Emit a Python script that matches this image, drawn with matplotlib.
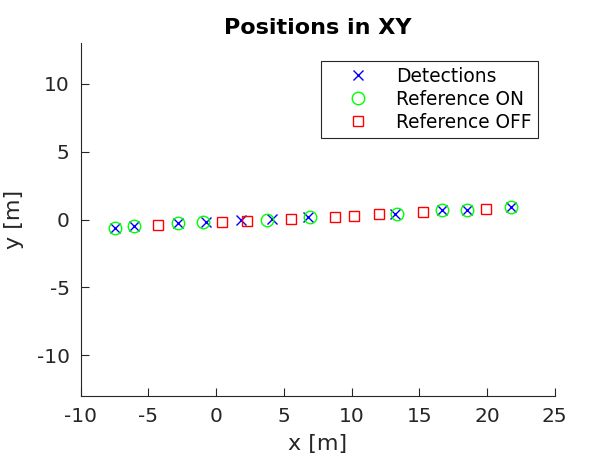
import matplotlib
matplotlib.use("Agg")
import matplotlib.pyplot as plt

plt.rcParams["axes.unicode_minus"] = False

# detections (blue x)
det_x = [-7.5, -6.1, -2.84, -0.74, 1.84, 4.1, 6.8, 13.2, 16.66, 18.55, 21.8]
det_y = [-0.59, -0.5, -0.27, -0.2, 0.0, 0.05, 0.17, 0.44, 0.69, 0.74, 0.91]

# reference ON (green circles)
on_x = [-7.5, -6.1, -2.84, -0.98, 3.73, 6.91, 13.36, 16.66, 18.55, 21.8]
on_y = [-0.59, -0.5, -0.27, -0.2, 0.0, 0.17, 0.44, 0.69, 0.74, 0.91]

# reference OFF (red squares)
off_x = [-4.26, 0.42, 2.3, 5.56, 8.75, 10.2, 12.0, 15.24, 19.95]
off_y = [-0.37, -0.17, -0.07, 0.05, 0.2, 0.3, 0.42, 0.57, 0.79]

xticks = [-10, -5, 0, 5, 10, 15, 20, 25]
yticks = [-10, -5, 0, 5, 10]

W, H = 613, 459
grey = (0.15, 0.15, 0.15)

fig = plt.figure(figsize=(W / 100, H / 100), dpi=100)
ax = fig.add_axes([80.7 / W, 1 - 396 / H, (554.7 - 80.7) / W, (396 - 43.3) / H])

ax.plot(det_x, det_y, "x", color=(0, 0, 1), ms=6.5, mew=1, label="Detections")
ax.plot(on_x, on_y, "o", color=(0, 1, 0), mfc="none", ms=9, mew=1, label="Reference ON")
ax.plot(off_x, off_y, "s", color=(1, 0, 0), mfc="none", ms=7, mew=1, label="Reference OFF")

ax.set_xlim(-10, 25)
ax.set_ylim(-13, 13)
ax.set_xticks(xticks)
ax.set_yticks(yticks)
ax.tick_params(direction="in", length=6, width=0.8, colors=grey, labelsize=14.5, pad=8)
for s in ["top", "right"]:
    ax.spines[s].set_visible(False)
for s in ["left", "bottom"]:
    ax.spines[s].set_color(grey)
    ax.spines[s].set_linewidth(0.8)

ax.set_xlabel("x [m]", fontsize=16, color=grey, labelpad=6)
ax.set_ylabel("y [m]", fontsize=16, color=grey, labelpad=9)
ax.set_title("Positions in XY", fontsize=16, fontweight="bold", pad=6.5)

leg = ax.legend(loc="upper right", bbox_to_anchor=(537.7 / W, 1 - 60.7 / H),
                bbox_transform=fig.transFigure, borderaxespad=0, fontsize=13.4,
                fancybox=False, framealpha=1, edgecolor=grey, borderpad=0.32,
                handlelength=3.3, handletextpad=0.4, labelspacing=0.22, numpoints=1)
leg.get_frame().set_linewidth(0.8)

fig.savefig("out.png", dpi=100)
